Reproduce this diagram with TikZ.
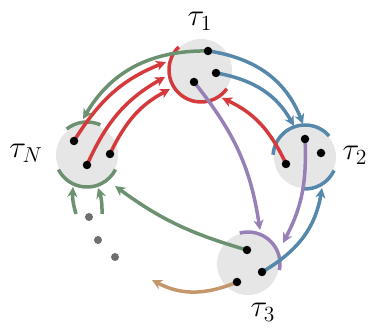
\documentclass[tikz,border=0pt]{standalone}
\usetikzlibrary{arrows.meta}
\definecolor{cred}{RGB}{212,58,60}
\definecolor{cgreen}{RGB}{108,145,112}
\definecolor{cblue}{RGB}{86,136,172}
\definecolor{cpurple}{RGB}{150,128,182}
\definecolor{cbrown}{RGB}{196,150,108}
\definecolor{cfill}{RGB}{230,230,230}
\definecolor{cdots}{RGB}{110,110,110}
\pgfdeclarelayer{bg}\pgfdeclarelayer{fg}\pgfsetlayers{bg,main,fg}
\begin{document}
\begin{tikzpicture}[x=1pt,y=1pt,
 task/.style={circle,fill=cfill,minimum size=62pt,inner sep=0pt},
 pt/.style={circle,fill=black,minimum size=8.5pt,inner sep=0pt},
 gdot/.style={circle,fill=cdots,minimum size=8pt,inner sep=0pt},
 edge/.style={line width=3.5pt,-{Stealth[length=10pt,width=10pt,inset=3pt]},shorten <=-4pt},
 ring/.style={line width=3.5pt},
 lbl/.style={font=\huge,scale=1.5,inner sep=0pt}]
\useasboundingbox (0,0) rectangle (373,-329);
% task circles
\begin{pgfonlayer}{bg}
\node[task] (t1) at (201,-70) {};
\node[task] (tN) at (87,-155) {};
\node[task] (t2) at (305,-157) {};
\node[task] (t3) at (248,-264) {};
% rings
\draw[ring,cred] ([shift={(134:32)}]t1.center) arc[start angle=134,end angle=324,radius=32];
\draw[ring,cgreen] ([shift={(66:33)}]tN.center) arc[start angle=66,end angle=128,radius=33];
\draw[ring,cgreen] ([shift={(207:32)}]tN.center) arc[start angle=207,end angle=333,radius=32];
\draw[ring,cblue] ([shift={(41:32)}]t2.center) arc[start angle=41,end angle=176,radius=32];
\draw[ring,cblue] ([shift={(265:32)}]t2.center) arc[start angle=265,end angle=335,radius=32];
\draw[ring,cpurple] ([shift={(105:32)}]t3.center) arc[start angle=105,end angle=-11,radius=32];
\end{pgfonlayer}
% labels
\node[lbl] (l1) at (200,-21) {$\tau_1$};
\node[lbl] (lN) at (26,-153) {$\tau_N$};
\node[lbl] (l2) at (355,-155) {$\tau_2$};
\node[lbl] (l3) at (263,-312) {$\tau_3$};
% points
\begin{pgfonlayer}{fg}
\node[pt] (t1a) at (208,-51) {};
\node[pt] (t1b) at (216,-73) {};
\node[pt] (t1c) at (194,-82) {};
\node[pt] (tNa) at (74,-141) {};
\node[pt] (tNb) at (110,-154) {};
\node[pt] (tNc) at (87,-165) {};
\node[pt] (t2a) at (305,-139) {};
\node[pt] (t2b) at (321,-153) {};
\node[pt] (t2c) at (286,-164) {};
\node[pt] (t3a) at (247,-250) {};
\node[pt] (t3b) at (262,-272) {};
\node[pt] (t3c) at (237,-282) {};
\node[gdot] (e1) at (89,-217) {};
\node[gdot] (e2) at (98,-240) {};
\node[gdot] (e3) at (115,-257) {};
\end{pgfonlayer}
% arrow ends
\coordinate (r1) at (166,-62);
\coordinate (r2) at (165,-77);
\coordinate (r3) at (170,-89);
\coordinate (r4) at (222,-98);
\coordinate (g1) at (83,-119);
\coordinate (g2) at (115,-186);
\coordinate (g3) at (73,-187);
\coordinate (g4) at (98,-188);
\coordinate (s1) at (76,-214);
\coordinate (s2) at (102,-214);
\coordinate (b1) at (303,-124);
\coordinate (b2) at (294,-126);
\coordinate (b3) at (322,-188);
\coordinate (p1) at (260,-230);
\coordinate (p2) at (283,-243);
\coordinate (br) at (152,-280);
% edges
\draw[edge,cred] (tNa) to[bend left=18] (r1);
\draw[edge,cred] (tNc) to[bend left=18] (r2);
\draw[edge,cred] (tNb) to[bend left=18] (r3);
\draw[edge,cred] (t2c) to[bend right=20] (r4);
\draw[edge,cgreen] (t1a) to[bend right=30] (g1);
\draw[edge,cgreen] (t3a) to[bend left=10] (g2);
\draw[edge,cgreen,shorten <=0pt] (s1) to[bend left=10] (g3);
\draw[edge,cgreen,shorten <=0pt] (s2) to[bend right=10] (g4);
\draw[edge,cblue] (t1a) to[bend left=30] (b1);
\draw[edge,cblue] (t1b) to[bend left=25] (b2);
\draw[edge,cblue] (t3b) to[bend right=25] (b3);
\draw[edge,cpurple] (t1c) to[bend left=15] (p1);
\draw[edge,cpurple] (t2a) to[bend left=15] (p2);
\draw[edge,cbrown] (t3c) to[bend left=25] (br);
\end{tikzpicture}
\end{document}
